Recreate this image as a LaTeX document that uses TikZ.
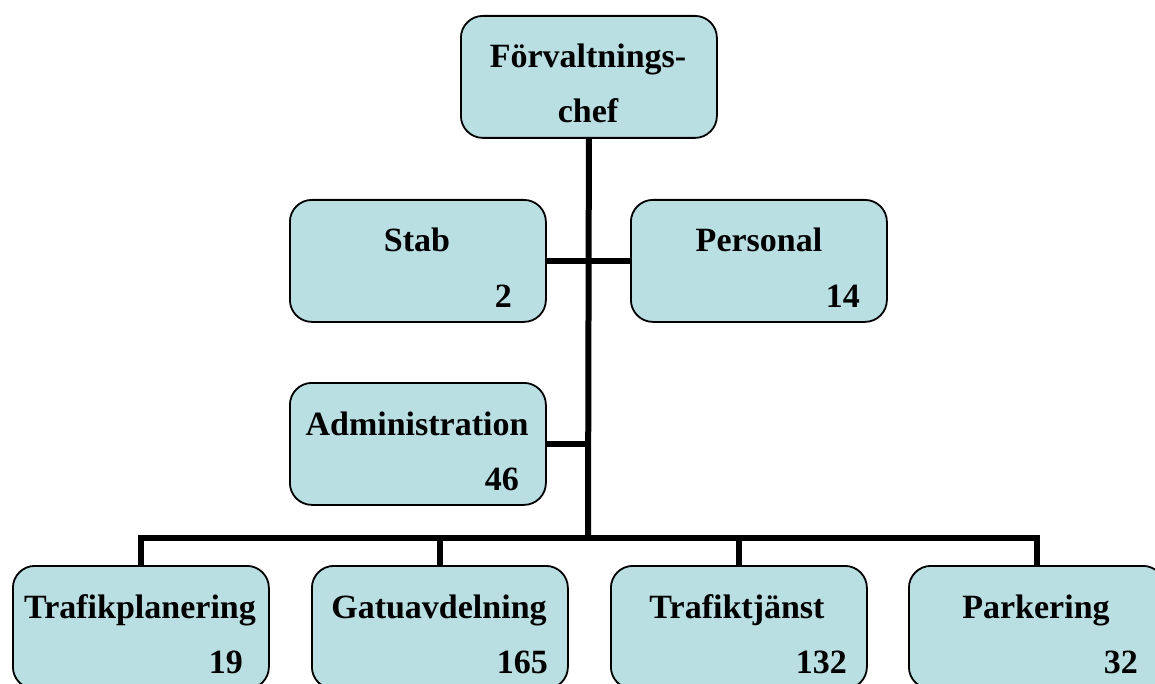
\documentclass[tikz,border=0pt]{standalone}
\usepackage{fontspec}
\setmainfont{Liberation Serif}
\definecolor{boxfill}{RGB}{185,223,227}
\begin{document}
\begin{tikzpicture}[x=1pt,y=-1pt,
  box/.style={draw=black, line width=1.8pt, fill=boxfill, rounded corners=22pt,
    minimum width=256pt, minimum height=122pt, inner sep=0pt, anchor=north west},
  lbl/.style={font=\fontsize{34}{40}\selectfont\bfseries, inner sep=0pt, anchor=base},
  num/.style={font=\fontsize{34}{40}\selectfont\bfseries, inner sep=0pt, anchor=base east},
  conn/.style={line width=6pt, line join=miter}]
\useasboundingbox (0,0) rectangle (1155,684);

% connectors first (behind boxes)
\coordinate (bus) at (588,538);

% boxes
\node[box] (top) at (460,15) {};
\node[box] (stab) at (289,199) {};
\node[box] (pers) at (630,199) {};
\node[box] (adm) at (289,382) {};
\node[box, minimum height=123pt] (tp) at (12,565) {};
\node[box, minimum height=123pt] (ga) at (311,565) {};
\node[box, minimum height=123pt] (tt) at (610,565) {};
\node[box, minimum height=123pt] (pk) at (908,565) {};

% connectors
\draw[conn] (top.south) -- (bus);
\draw[conn] (stab.east) -- (pers.west);
\draw[conn] (adm.east) -- (adm.east -| bus);
\draw[conn] (tp.north) |- (bus) -| (pk.north);
\draw[conn] (ga.north) -- (ga.north |- bus);
\draw[conn] (tt.north) -- (tt.north |- bus);

% labels
\node[lbl] (topA) at (588,68) {Förvaltnings-};
\node[lbl] (topB) at (588,123) {chef};
\node[lbl] (stabT) at (417,252) {Stab};
\node[num] (stabN) at (512,307) {2};
\node[lbl] (persT) at (759,252) {Personal};
\node[num] (persN) at (860,307) {14};
\node[lbl] (admT) at (417,435) {Administration};
\node[num] (admN) at (519,490) {46};
\node[lbl] (tpT) at (140,618) {Trafikplanering};
\node[num] (tpN) at (243,673) {19};
\node[lbl] (gaT) at (439,618) {Gatuavdelning};
\node[num] (gaN) at (548,673) {165};
\node[lbl] (ttT) at (737,618) {Trafiktjänst};
\node[num] (ttN) at (847,673) {132};
\node[lbl] (pkT) at (1036,618) {Parkering};
\node[num] (pkN) at (1138,673) {32};
\end{tikzpicture}
\end{document}
